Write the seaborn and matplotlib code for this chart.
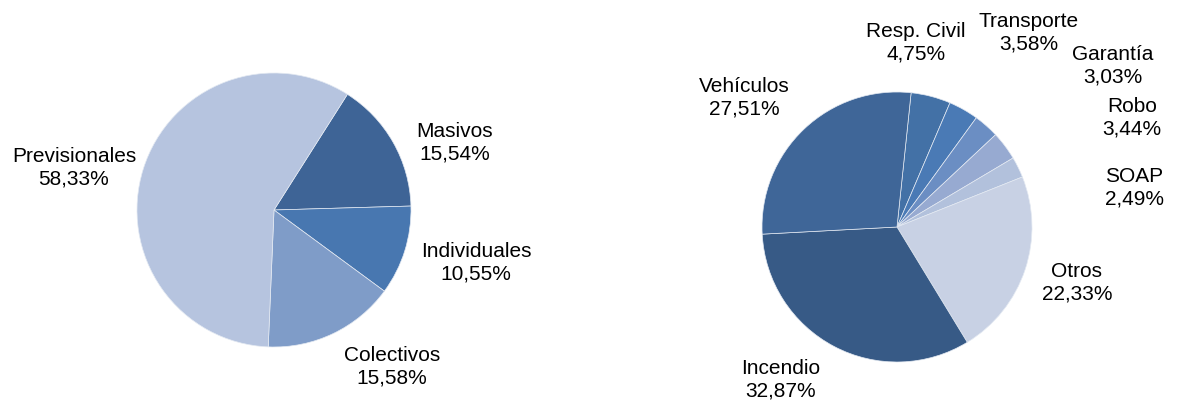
import matplotlib
matplotlib.use("Agg")
import matplotlib.pyplot as plt
import seaborn as sns

sns.set_theme(style="white")
plt.rcParams['font.family'] = ['Liberation Sans', 'DejaVu Sans']

# ---- data ----
left_labels = ["Masivos", "Individuales", "Colectivos", "Previsionales"]
left_values = [15.54, 10.55, 15.58, 58.33]
left_colors = ["#3E6496", "#4877B0", "#7F9CC8", "#B6C4DF"]

right_labels = ["Resp. Civil", "Transporte", "Garantía", "Robo", "SOAP",
                "Otros", "Incendio", "Vehículos"]
right_values = [4.75, 3.58, 3.03, 3.44, 2.49, 22.33, 32.87, 27.51]
right_colors = ["#4371A6", "#4A7AB5", "#6B8EC3", "#97AAD1", "#B2C1DC",
                "#C8D1E4", "#375A86", "#3F6698"]

# ---- layout (pixel coordinates of the 1177x400 canvas, y measured from top) ----
W, H = 1177, 400
left_center, left_radius, left_start = (274, 210), 137, 57.6
right_center, right_radius, right_start = (897, 227), 135, 84.0
left_label_pos = [(455, 143), (476, 263), (392, 367), (74, 168)]
right_label_pos = [(916, 43), (1029, 33), (1113, 66), (1132, 118),
                   (1134, 188), (1077, 283), (781, 380), (744, 98)]

fig = plt.figure(figsize=(W / 100, H / 100), dpi=100)
ax = fig.add_axes([0, 0, 1, 1])
ax.set_xlim(0, W)
ax.set_ylim(0, H)
ax.set_aspect("equal")
ax.axis("off")


def fmt(v):
    return f"{v:.2f}".replace(".", ",") + "%"


def draw(values, colors, labels, center, radius, start, label_pos):
    ax.pie(values, colors=colors, startangle=start, counterclock=False,
           center=(center[0], H - center[1]), radius=radius,
           wedgeprops=dict(edgecolor="#e3e9f2", linewidth=0.5),
           normalize=True, frame=True)
    for lab, v, (x, y) in zip(labels, values, label_pos):
        ax.text(x, H - y, f"{lab}\n{fmt(v)}", ha="center", va="center",
                fontsize=15, color="black", linespacing=1.22)


draw(left_values, left_colors, left_labels, left_center, left_radius,
     left_start, left_label_pos)
draw(right_values, right_colors, right_labels, right_center, right_radius,
     right_start, right_label_pos)

ax.set_xlim(0, W)
ax.set_ylim(0, H)
ax.axis("off")

fig.savefig("out.png", dpi=100)
